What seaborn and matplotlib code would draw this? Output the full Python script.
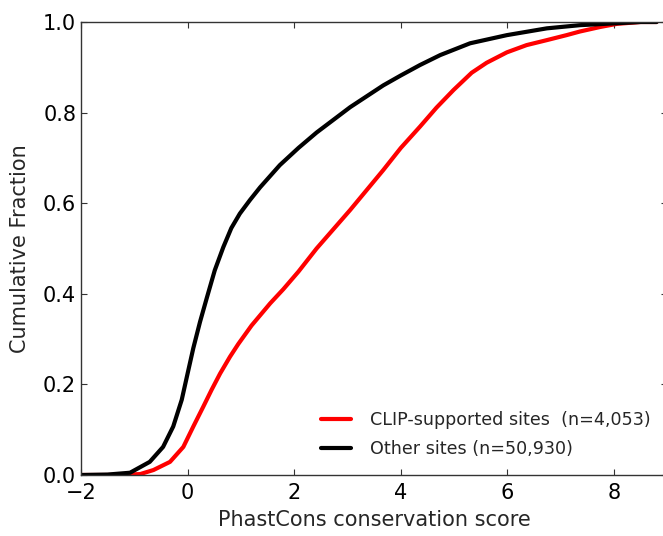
import matplotlib
matplotlib.use("Agg")
import matplotlib.pyplot as plt
import seaborn as sns
import pandas as pd

# CDF of PhastCons scores
clip_x = [-2.0, -1.5, -1.1, -0.89, -0.64, -0.33, -0.08, 0.107, 0.295, 0.45, 0.61, 0.795,
          0.95, 1.2, 1.55, 1.795, 2.08, 2.42, 3.05, 3.67, 4.0, 4.36, 4.67, 4.99, 5.33,
          5.61, 5.99, 6.36, 6.74, 7.11, 7.36, 7.74, 8.06, 8.5, 8.8]
clip_y = [0.0, 0.0, 0.001, 0.002, 0.011, 0.029, 0.062, 0.107, 0.151, 0.188, 0.224, 0.261,
          0.289, 0.33, 0.379, 0.41, 0.449, 0.50, 0.585, 0.673, 0.722, 0.769, 0.811, 0.850, 0.888,
          0.910, 0.933, 0.949, 0.960, 0.971, 0.979, 0.989, 0.996, 1.0, 1.0]

other_x = [-2.0, -1.5, -1.08, -0.71, -0.46, -0.27, -0.11, 0.0, 0.107, 0.233, 0.358, 0.51,
           0.67, 0.82, 0.98, 1.17, 1.36, 1.73, 2.08, 2.42, 3.05, 3.67, 4.0, 4.36, 4.74, 5.30, 5.99,
           6.74, 7.36, 8.0, 8.5, 8.8]
other_y = [0.0, 0.001, 0.005, 0.029, 0.062, 0.107, 0.166, 0.224, 0.28, 0.338, 0.39, 0.452,
           0.503, 0.545, 0.577, 0.607, 0.635, 0.684, 0.722, 0.756, 0.812, 0.860, 0.882, 0.905, 0.927, 0.953, 0.971,
           0.986, 0.993, 0.997, 1.0, 1.0]

labels = ["CLIP-supported sites  (n=4,053)", "Other sites (n=50,930)"]
colors = ["#ff0000", "#000000"]

x_ticks = [-2, 0, 2, 4, 6, 8]
y_ticks = [0.0, 0.2, 0.4, 0.6, 0.8, 1.0]

df = pd.concat([
    pd.DataFrame({"score": clip_x, "frac": clip_y, "group": labels[0]}),
    pd.DataFrame({"score": other_x, "frac": other_y, "group": labels[1]}),
], ignore_index=True)

sns.set_style("ticks")
plt.rcParams["font.family"] = ["DejaVu Sans"]

fig = plt.figure(figsize=(6.63, 5.36), dpi=100)
ax = fig.add_axes([81 / 663, 61 / 536, 586 / 663, 453 / 536])

sns.lineplot(data=df, x="score", y="frac", hue="group", hue_order=labels,
             palette=colors, estimator=None, sort=False, linewidth=3, ax=ax)

ax.set_xlim(-2, -2 + 586 / 53.3)
ax.set_ylim(0, 1.0)
ax.set_xticks(x_ticks)
ax.set_yticks(y_ticks)
ax.set_yticklabels([f"{v:.1f}" for v in y_ticks])
ax.tick_params(direction="in", top=True, right=True, length=4, width=0.8,
               labelsize=15, colors="#333333", labelcolor="black")
ax.tick_params(axis="x", pad=6)
for s in ax.spines.values():
    s.set_visible(True)
    s.set_linewidth(1.0)
    s.set_color("#333333")

ax.set_xlabel("PhastCons conservation score", fontsize=15, labelpad=5)
ax.set_ylabel("Cumulative Fraction", fontsize=15, labelpad=9)

leg = ax.legend(loc="lower right", frameon=False, fontsize=12.6, handlelength=1.7,
                bbox_to_anchor=(0.999, 0.002), handletextpad=1.1, labelspacing=0.62)
for line in leg.get_lines():
    line.set_linewidth(3)

fig.savefig("out.png", dpi=100)
